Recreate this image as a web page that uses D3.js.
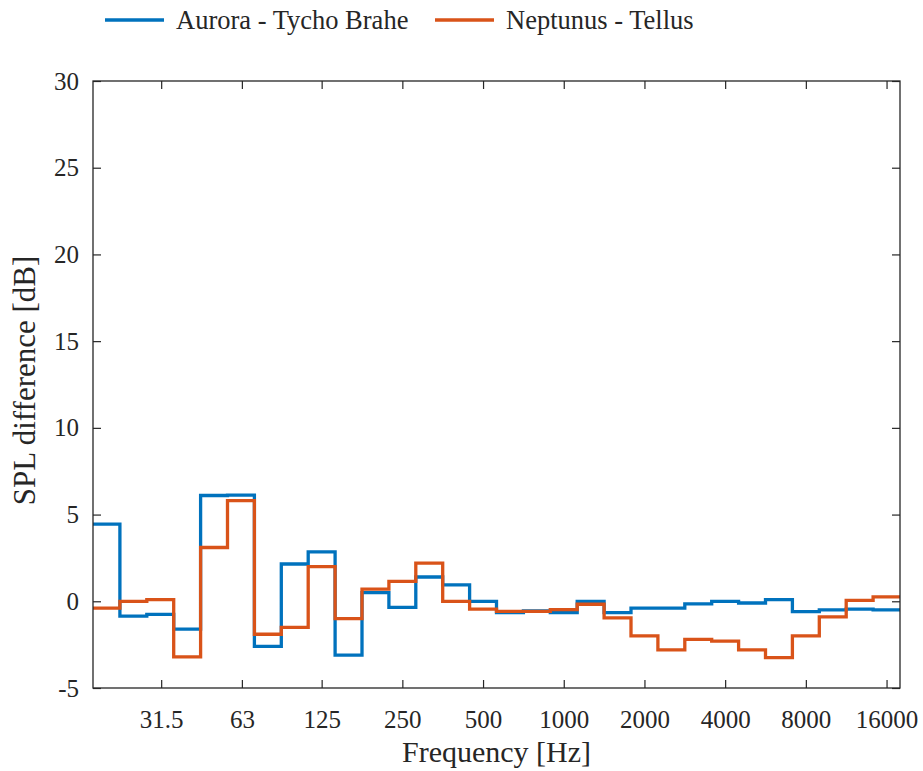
<!DOCTYPE html>
<html>
<head>
<meta charset="utf-8">
<script src="https://cdn.jsdelivr.net/npm/d3@7"></script>
<style>
  html, body { margin: 0; padding: 0; background: #ffffff; }
  svg { display: block; }
  text { font-family: "Liberation Serif", "Times New Roman", Times, serif; fill: #262626; }
</style>
</head>
<body>
<svg id="chart" width="923" height="771"></svg>
<script>
// One-third-octave band centre frequencies (nominal), Hz
const bands = [20, 25, 31.5, 40, 50, 63, 80, 100, 125, 160, 200, 250, 315, 400, 500,
               630, 800, 1000, 1250, 1600, 2000, 2500, 3150, 4000, 5000, 6300, 8000,
               10000, 12500, 16000];

// SPL difference per band, dB
const auroraTycho = [4.45, -0.85, -0.75, -1.6, 6.1, 6.12, -2.6, 2.15, 2.85, -3.1,
                     0.5, -0.35, 1.4, 0.95, 0.0, -0.65, -0.55, -0.65, 0.0, -0.65,
                     -0.4, -0.4, -0.15, 0.0, -0.1, 0.1, -0.6, -0.5, -0.45, -0.5];
const neptunusTellus = [-0.4, 0.0, 0.1, -3.2, 3.1, 5.8, -1.9, -1.5, 2.0, -1.0,
                        0.7, 1.15, 2.2, 0.0, -0.45, -0.58, -0.58, -0.48, -0.17, -0.96,
                        -2.0, -2.8, -2.2, -2.3, -2.8, -3.25, -2.0, -0.9, 0.05, 0.25];

const seriesNames = ["Aurora - Tycho Brahe", "Neptunus - Tellus"];
const seriesColors = ["#0072BD", "#D95319"];

const xTickValues = [31.5, 63, 125, 250, 500, 1000, 2000, 4000, 8000, 16000];
const yTickValues = [-5, 0, 5, 10, 15, 20, 25, 30];

const FONT = '"Liberation Serif", "Times New Roman", Times, serif';

// Exact base-two band centre and edges for a nominal frequency
const exactCentre = f => 1000 * Math.pow(2, Math.round(3 * Math.log2(f / 1000)) / 3);
const lowerEdge = f => exactCentre(f) * Math.pow(2, -1 / 6);
const upperEdge = f => exactCentre(f) * Math.pow(2, 1 / 6);

const margin = { left: 93, right: 23, top: 81, bottom: 83 };
const W = 923, H = 771;
const pw = W - margin.left - margin.right;
const ph = H - margin.top - margin.bottom;

const svg = d3.select("#chart");
const g = svg.append("g").attr("transform", `translate(${margin.left},${margin.top})`);

const x = d3.scaleLog()
  .domain([lowerEdge(bands[0]), upperEdge(bands[bands.length - 1])])
  .range([0, pw]);
const y = d3.scaleLinear().domain([-5, 30]).range([ph, 0]);

const axisColor = "#262626";
const tickLen = 8;

// Clip for the data lines
svg.append("defs").append("clipPath").attr("id", "plotClip")
  .append("rect").attr("width", pw).attr("height", ph);

// Staircase points across band edges
function stairPoints(values) {
  const pts = [];
  bands.forEach((f, i) => {
    pts.push([lowerEdge(f), values[i]]);
    pts.push([upperEdge(f), values[i]]);
  });
  return pts;
}

const line = d3.line().x(d => x(d[0])).y(d => y(d[1]));

[auroraTycho, neptunusTellus].forEach((vals, i) => {
  g.append("path")
    .attr("clip-path", "url(#plotClip)")
    .attr("d", line(stairPoints(vals)))
    .attr("fill", "none")
    .attr("stroke", seriesColors[i])
    .attr("stroke-width", 3.3)
    .attr("stroke-linejoin", "miter");
});

// Axes: ticks point inwards, mirrored on top and right
const xBottom = d3.axisBottom(x).tickValues(xTickValues).tickFormat(d => String(d))
  .tickSizeInner(-tickLen).tickSizeOuter(0).tickPadding(22);
const xTop = d3.axisTop(x).tickValues(xTickValues).tickFormat("")
  .tickSizeInner(-tickLen).tickSizeOuter(0);
const yLeft = d3.axisLeft(y).tickValues(yTickValues).tickFormat(d => String(d))
  .tickSizeInner(-tickLen).tickSizeOuter(0).tickPadding(14);
const yRight = d3.axisRight(y).tickValues(yTickValues).tickFormat("")
  .tickSizeInner(-tickLen).tickSizeOuter(0);

function styleAxis(sel) {
  sel.attr("font-family", FONT).attr("font-size", 25);
  sel.select(".domain").remove();
  sel.selectAll("line").attr("stroke", axisColor).attr("stroke-width", 1.2);
  sel.selectAll("text").attr("fill", axisColor)
    .attr("font-family", FONT)
    .style("font-family", FONT)
    .style("font-size", "25px");
}

g.append("g").attr("transform", `translate(0,${ph})`).call(xBottom).call(styleAxis);
g.append("g").call(xTop).call(styleAxis);
g.append("g").call(yLeft).call(styleAxis);
g.append("g").attr("transform", `translate(${pw},0)`).call(yRight).call(styleAxis);

// Axes box
g.append("rect").attr("width", pw).attr("height", ph)
  .attr("fill", "none").attr("stroke", axisColor).attr("stroke-width", 1.3);

// Axis titles
svg.append("text")
  .attr("x", margin.left + pw / 2).attr("y", 762)
  .attr("text-anchor", "middle")
  .attr("font-family", FONT).style("font-size", "30px")
  .text("Frequency [Hz]");

svg.append("text")
  .attr("transform", `translate(35,${margin.top + ph / 2 - 4}) rotate(-90)`)
  .attr("text-anchor", "middle")
  .attr("font-family", FONT).style("font-size", "31px")
  .text("SPL difference [dB]");

// Legend across the top
const legendItems = [
  { x: 105, name: seriesNames[0], color: seriesColors[0] },
  { x: 435, name: seriesNames[1], color: seriesColors[1] }
];
const lg = svg.append("g");
legendItems.forEach(d => {
  lg.append("line").attr("x1", d.x).attr("x2", d.x + 59)
    .attr("y1", 20).attr("y2", 20)
    .attr("stroke", d.color).attr("stroke-width", 3.3);
  lg.append("text").attr("x", d.x + 71).attr("y", 29)
    .attr("font-family", FONT).style("font-size", "26.5px").text(d.name);
});
</script>
</body>
</html>
